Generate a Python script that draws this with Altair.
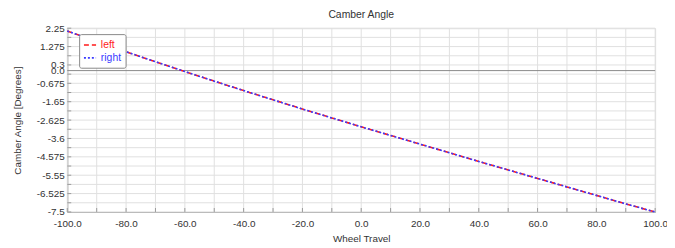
import altair as alt
import pandas as pd

# ---- data ----
wheel_travel = [-100, -90, -80, -70, -60, -50, -40, -30, -20, -10, 0,
                10, 20, 30, 40, 50, 60, 70, 80, 90, 100]
camber_left = [2.10, 1.55, 1.00, 0.47, -0.05, -0.56, -1.06, -1.55, -2.04, -2.51, -2.98,
               -3.44, -3.90, -4.36, -4.82, -5.27, -5.72, -6.17, -6.62, -7.07, -7.50]
camber_right = [2.10, 1.55, 1.00, 0.47, -0.05, -0.56, -1.06, -1.55, -2.04, -2.51, -2.98,
                -3.44, -3.90, -4.36, -4.82, -5.27, -5.72, -6.17, -6.62, -7.07, -7.50]

y_label_values = [2.25, 1.275, 0.3, 0.0, -0.675, -1.65, -2.625, -3.6, -4.575, -5.55, -6.525, -7.5]
y_grid_values = [2.25, 1.7625, 1.275, 0.7875, 0.3, -0.1875, -0.675, -1.1625, -1.65, -2.1375,
                 -2.625, -3.1125, -3.6, -4.0875, -4.575, -5.0625, -5.55, -6.0375, -6.525,
                 -7.0125, -7.5]
x_label_values = [-100, -80, -60, -40, -20, 0, 20, 40, 60, 80, 100]
x_grid_values = [-100, -90, -80, -70, -60, -50, -40, -30, -20, -10, 0,
                 10, 20, 30, 40, 50, 60, 70, 80, 90, 100]
series_names = ["left", "right"]
series_colors = ["#ff1a1a", "#3a3aff"]

W, H = 595, 186
FONT = "Liberation Sans"
TXT = "#333333"

df = pd.DataFrame({
    "travel": wheel_travel + wheel_travel,
    "camber": camber_left + camber_right,
    "series": ["left"] * len(wheel_travel) + ["right"] * len(wheel_travel),
})
ygrid = pd.DataFrame({"v": y_grid_values})
xgrid = pd.DataFrame({"v": x_grid_values})
zero = pd.DataFrame({"v": [0.0]})

xscale = alt.Scale(domain=[-100, 100], nice=False, zero=False)
yscale = alt.Scale(domain=[-7.5, 2.25], nice=False, zero=False)

x_axis = alt.Axis(values=x_label_values, grid=False, ticks=False, domain=True,
                  domainColor="#999999", labelExpr="toString(datum.value) + '.0'",
                  labelFont=FONT, labelFontSize=10, labelColor=TXT, labelPadding=7,
                  labelFlush=False,
                  title="Wheel Travel", titleFont=FONT, titleFontSize=10,
                  titleFontWeight="normal", titleColor=TXT, titlePadding=5,
                  labelOverlap=False)
y_axis = alt.Axis(values=y_label_values, grid=False, ticks=False, domain=True,
                  domainColor="#999999",
                  labelExpr="datum.value == 0 ? '0.0' : toString(datum.value)",
                  labelFont=FONT, labelFontSize=10, labelColor=TXT, labelPadding=3,
                  labelFlush=False,
                  title="Camber Angle [Degrees]", titleFont=FONT, titleFontSize=10,
                  titleFontWeight="normal", titleColor=TXT, titlePadding=14,
                  labelOverlap=False)

hgrid = alt.Chart(ygrid).mark_rule(color="#e0e0e0", strokeWidth=1).encode(
    y=alt.Y("v:Q", scale=yscale, axis=y_axis))
vgrid = alt.Chart(xgrid).mark_rule(color="#e0e0e0", strokeWidth=1).encode(
    x=alt.X("v:Q", scale=xscale, axis=x_axis))
zline = alt.Chart(zero).mark_rule(color="#888888", strokeWidth=1).encode(
    y=alt.Y("v:Q", scale=yscale, axis=y_axis))
yticks = alt.Chart(ygrid).mark_rule(color="#999999").encode(
    y=alt.Y("v:Q", scale=yscale, axis=y_axis), x=alt.value(0), x2=alt.value(4))
xticks = alt.Chart(xgrid).mark_rule(color="#999999").encode(
    x=alt.X("v:Q", scale=xscale, axis=x_axis), y=alt.value(H), y2=alt.value(H - 4))

lines = alt.Chart(df).mark_line(strokeWidth=1.6).encode(
    x=alt.X("travel:Q", scale=xscale, axis=x_axis),
    y=alt.Y("camber:Q", scale=yscale, axis=y_axis),
    color=alt.Color("series:N",
                    scale=alt.Scale(domain=series_names, range=series_colors),
                    legend=alt.Legend(title=None, orient="none", legendX=12, legendY=6,
                                      fillColor="white", strokeColor="#888888",
                                      cornerRadius=2, padding=4, rowPadding=0,
                                      labelFont=FONT, labelFontSize=10.5,
                                      labelColor=alt.ExprRef("datum.label == 'left' ? '#ff1a1a' : '#3a3aff'"),
                                      symbolType="stroke", symbolSize=150,
                                      symbolStrokeWidth=1.6, labelOffset=4)),
    strokeDash=alt.StrokeDash("series:N",
                              scale=alt.Scale(domain=series_names, range=[[5, 3], [2, 2]]),
                              legend=None),
    order=alt.Order("series:N"),
)

chart = alt.layer(hgrid, vgrid, zline, yticks, xticks, lines).properties(
    width=W, height=H,
    title=alt.TitleParams("Camber Angle", font=FONT, fontSize=10.5, fontWeight="normal",
                          color=TXT, offset=3, anchor="middle", frame="group"),
    autosize=alt.AutoSizeParams(type="none"),
    padding={"left": 60, "top": 19, "right": 12, "bottom": 33},
).configure_view(stroke="#aaaaaa", strokeWidth=1).configure(background="white")

chart.save("out.html", embed_options={"renderer": "svg", "actions": False})
